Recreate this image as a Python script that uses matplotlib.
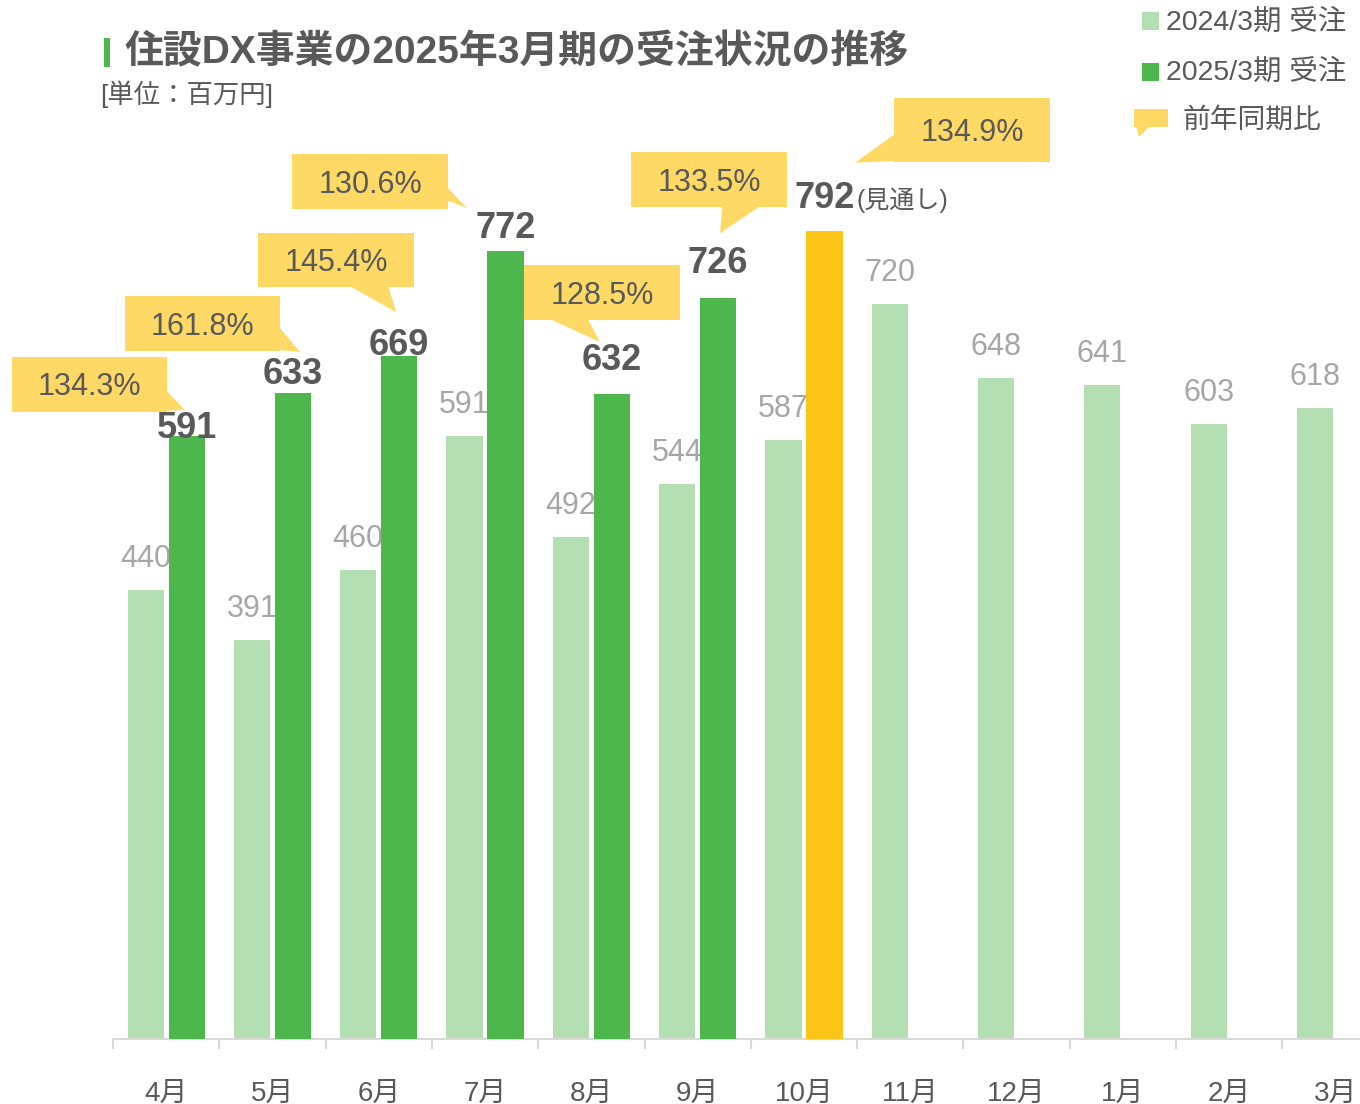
import matplotlib
matplotlib.use("Agg")
import matplotlib.pyplot as plt
import matplotlib.transforms as mtransforms
from matplotlib.patches import Rectangle, Polygon
import numpy as np

plt.rcParams['font.family'] = ['Liberation Sans', 'Noto Sans CJK JP']

# data
months = ["4月", "5月", "6月", "7月", "8月", "9月", "10月", "11月", "12月", "1月", "2月", "3月"]
prev_orders = [440, 391, 460, 591, 492, 544, 587, 720, 648, 641, 603, 618]
curr_orders = [591, 633, 669, 772, 632, 726, 792]
yoy_ratio = [134.3, 161.8, 145.4, 130.6, 128.5, 133.5, 134.9]
forecast_idx = 6

LIGHT = "#B3DFB3"; GREEN = "#4DB74D"; YELLOW = "#FDC518"; CALLOUT = "#FED966"
TXT = "#595959"; GREYTXT = "#A6A6A6"; AXIS = "#D9D9D9"

W, H = 1360, 1104
fig = plt.figure(figsize=(W / 100, H / 100), dpi=100)
fig.patch.set_facecolor("white")
ax = fig.add_axes([113 / W, 65 / H, (W - 113) / W, 1039 / H])

x = np.arange(len(months))
bw = 0.34; off = 0.193
ax.bar(x - off, prev_orders, bw, color=LIGHT, zorder=2)
curr_colors = [GREEN] * len(curr_orders)
curr_colors[forecast_idx] = YELLOW
ax.bar(x[:len(curr_orders)] + off, curr_orders, bw, color=curr_colors, zorder=4)

ax.set_yticks([])
for s in ["left", "top", "right"]:
    ax.spines[s].set_visible(False)
ax.spines["bottom"].set_color(AXIS)
ax.spines["bottom"].set_linewidth(1.5)
ax.set_xticks(x)
ax.set_xticklabels(months)
ax.set_xticks(np.arange(-0.5, len(months), 1), minor=True)
ax.tick_params(axis="x", which="major", length=0, pad=30, labelsize=20, labelcolor=TXT)
ax.tick_params(axis="x", which="minor", length=7.5, width=1.5, color=AXIS, direction="out")
ax.set_xlim(-0.5, -0.5 + (W - 113) / 106.3)
ax.set_ylim(0, 1039 / 1.0205)


def px(xd, yd):
    # pixel offsets (y up) from a data point
    return mtransforms.IdentityTransform() + mtransforms.ScaledTranslation(xd, yd, ax.transData)


# previous-year labels (sit under the dark bars)
for i, v in enumerate(prev_orders):
    ax.text(0, 23, str(v), transform=px(i - off, v), ha="center", va="baseline",
            fontsize=22, color=GREYTXT, zorder=3)

# current-year labels
lift = [-2, 9, 1, 13, 24, 25, 23]
for i, v in enumerate(curr_orders):
    ax.text(0, lift[i], str(v), transform=px(i + off, v), ha="center", va="baseline",
            fontsize=26, fontweight="bold", color=TXT, zorder=6)
ax.text(32, lift[forecast_idx], "(見通し)", transform=px(forecast_idx + off, curr_orders[forecast_idx]),
        ha="left", va="baseline", fontsize=18, color=TXT, zorder=6)

# yoy callouts, box/wedge in px relative to bar top
boxes = [(-175, -20, 24, 79), (-168, -13, 42, 97), (-141, 15, 69, 123),
         (-213.5, -57.5, 42, 97), (-88, 68, 74, 129), (-87, 69, 91, 146),
         (69.6, 225.6, 69, 133)]
wedges = [[(-21, 46), (-2, 26), (-21, 25)],
          [(-14, 66), (7, 41), (-14, 43)],
          [(-49, 70), (-11, 70), (-3, 44)],
          [(-58.5, 64), (-38.5, 43), (-58.5, 51)],
          [(-62, 75), (-24, 75), (-12, 52)],
          [(4, 92), (42, 92), (2, 65)],
          [(70.6, 97), (30.6, 68), (70.6, 70)]]
for i, r in enumerate(yoy_ratio):
    t = px(i + off, curr_orders[i])
    x0, x1, y0, y1 = boxes[i]
    ax.add_patch(Rectangle((x0, y0), x1 - x0, y1 - y0, transform=t, facecolor=CALLOUT,
                           lw=0, zorder=7, clip_on=False))
    ax.add_patch(Polygon(wedges[i], closed=True, transform=t, facecolor=CALLOUT,
                         lw=0, zorder=7, clip_on=False))
    ax.text((x0 + x1) / 2, (y0 + y1) / 2 - 11, f"{r:.1f}%", transform=t, ha="center",
            va="baseline", fontsize=22, color=TXT, zorder=8)


def fp(xp, yp):
    return (xp / W, 1 - yp / H)


# title
fig.patches.append(Rectangle(fp(104, 67), 6 / W, 29 / H, transform=fig.transFigure,
                             facecolor=GREEN, lw=0))
fig.text(*fp(125, 53), "住設DX事業の2025年3月期の受注状況の推移", fontsize=28,
         fontweight="bold", color=TXT, ha="left", va="center")
fig.text(*fp(100, 94), "[単位：百万円]", fontsize=19, color=TXT, ha="left", va="center")

# legend
fig.patches.append(Rectangle(fp(1142, 30), 17 / W, 18 / H, transform=fig.transFigure,
                             facecolor=LIGHT, lw=0))
fig.patches.append(Rectangle(fp(1142, 81), 17 / W, 18 / H, transform=fig.transFigure,
                             facecolor=GREEN, lw=0))
fig.patches.append(Rectangle(fp(1134, 127), 34 / W, 18 / H, transform=fig.transFigure,
                             facecolor=CALLOUT, lw=0))
fig.patches.append(Polygon([fp(1136, 126), fp(1139, 137), fp(1150, 126)], closed=True,
                           transform=fig.transFigure, facecolor=CALLOUT, lw=0))
fig.text(*fp(1166, 23), "2024/3期 受注", fontsize=20.5, color=TXT, ha="left", va="center")
fig.text(*fp(1166, 73), "2025/3期 受注", fontsize=20.5, color=TXT, ha="left", va="center")
fig.text(*fp(1182, 121), "前年同期比", fontsize=20, color=TXT, ha="left", va="center")

fig.savefig("out.png", dpi=100, facecolor="white")
